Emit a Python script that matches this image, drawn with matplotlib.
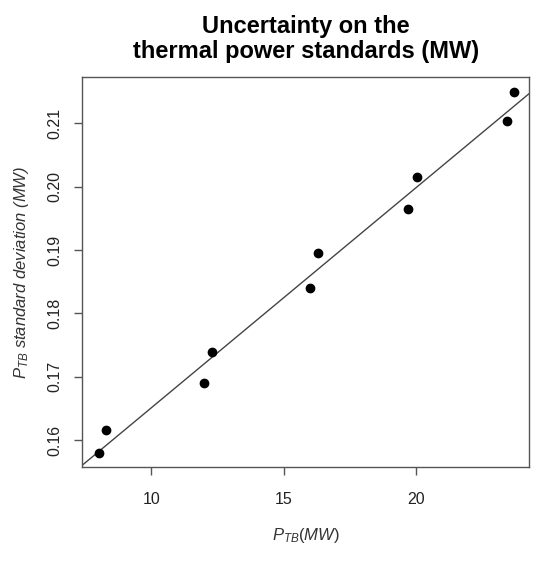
import matplotlib
matplotlib.use('Agg')
import matplotlib.pyplot as plt

# Values
p_tb = [8.01, 8.30, 12.00, 12.31, 16.01, 16.31, 19.71, 20.02, 23.42, 23.72]
p_tb_sd = [0.1579, 0.1616, 0.1690, 0.1739, 0.1840, 0.1895, 0.1965, 0.2015, 0.2104, 0.2150]

# fitted line (intercept, slope)
fit_intercept = 0.13034
fit_slope = 0.003476

x_ticks = [10, 15, 20]
y_ticks = [0.16, 0.17, 0.18, 0.19, 0.20, 0.21]

plt.rcParams['font.family'] = ['Liberation Sans', 'DejaVu Sans']
plt.rcParams['mathtext.fontset'] = 'custom'
plt.rcParams['mathtext.it'] = 'Liberation Sans:italic'
plt.rcParams['mathtext.rm'] = 'Liberation Sans'

fig = plt.figure(figsize=(5.36, 5.62), dpi=100)
ax = fig.add_axes([0.153, 0.169, 0.9875 - 0.153, 0.8625 - 0.169])

ax.axline((0, fit_intercept), slope=fit_slope, color='#444444', lw=1.0)
ax.plot(p_tb, p_tb_sd, 'o', color='black', markersize=6)

ax.set_xlim(7.38, 24.28)
ax.set_ylim(0.15574, 0.2173)
ax.set_xticks(x_ticks)
ax.set_yticks(y_ticks)
ax.set_xticklabels([str(t) for t in x_ticks])
ax.set_yticklabels(['%.2f' % t for t in y_ticks], rotation=90, va='center')

for s in ax.spines.values():
    s.set_color('#555555')
    s.set_linewidth(1.0)
ax.tick_params(axis='both', direction='out', length=6, width=1.0, color='#555555',
               labelsize=11.5, labelcolor='#222222')
ax.tick_params(axis='x', pad=12)
ax.tick_params(axis='y', pad=8)

ax.set_title('Uncertainty on the\nthermal power standards (MW)', fontsize=17,
             fontweight='bold', linespacing=1.1, pad=14)
ax.set_xlabel('$P_{TB}(MW)$', fontsize=12, color='#333333', labelpad=14)
ax.set_ylabel('$P_{TB}$ standard deviation (MW)', fontsize=12, style='italic',
              color='#333333', labelpad=12)

plt.savefig('out.png', dpi=100)
plt.close()
